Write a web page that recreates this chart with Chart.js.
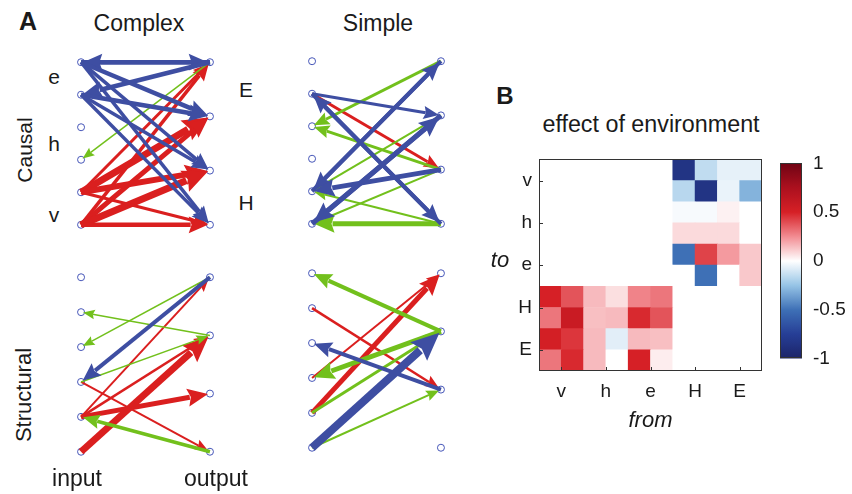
<!DOCTYPE html>
<html>
<head>
<meta charset="utf-8">
<script src="https://cdn.jsdelivr.net/npm/chart.js@4.4.1/dist/chart.umd.min.js"></script>
<style>
html, body { margin: 0; padding: 0; background: #fff; }
#fig { position: relative; width: 852px; height: 494px; overflow: hidden; font-family: "Liberation Sans", Arial, sans-serif; color: #1a1a1a; }
#fig canvas { position: absolute; }
.t { position: absolute; transform: translate(-50%, -50%); white-space: nowrap; line-height: 1; font-size: 21px; }
.rot { transform: translate(-50%, -50%) rotate(-90deg); }
</style>
</head>
<body>
<div id="fig">
  <canvas id="complexCausal"></canvas>
  <canvas id="complexStructural"></canvas>
  <canvas id="simpleCausal"></canvas>
  <canvas id="simpleStructural"></canvas>
  <canvas id="heatmap"></canvas>
  <canvas id="colorbar"></canvas>

  <div class="t" style="left:28px;top:21px;font-size:25px;font-weight:bold">A</div>
  <div class="t" style="left:139px;top:23px;font-size:23px">Complex</div>
  <div class="t" style="left:378px;top:23px;font-size:23px">Simple</div>
  <div class="t rot" style="left:24px;top:150px;font-size:21px">Causal</div>
  <div class="t rot" style="left:24px;top:395px;font-size:22px">Structural</div>
  <div class="t" style="left:54px;top:76px">e</div>
  <div class="t" style="left:54px;top:143px">h</div>
  <div class="t" style="left:54px;top:214px">v</div>
  <div class="t" style="left:246px;top:89px">E</div>
  <div class="t" style="left:246px;top:202px">H</div>
  <div class="t" style="left:77px;top:478px;font-size:23px">input</div>
  <div class="t" style="left:216px;top:478px;font-size:23px">output</div>

  <div class="t" style="left:505px;top:96px;font-size:24px;font-weight:bold">B</div>
  <div class="t" style="left:651px;top:125px;font-size:23.3px">effect of environment</div>
  <div class="t" style="left:500px;top:260px;font-size:22px;font-style:italic">to</div>
</div>

<script>
// network layout: 6 input nodes (left), 4 output nodes (right)
const leftNodes = 6;
const rightNodes = 4;

// edges: [from side, from index, to side, to index, weight, colour]
const complexCausalEdges = [
  ['L', 4, 'R', 0, 3, 'red'],
  ['L', 5, 'R', 0, 3.5, 'red'],
  ['L', 4, 'R', 1, 7, 'red'],
  ['L', 5, 'R', 1, 5, 'red'],
  ['L', 4, 'R', 2, 6, 'red'],
  ['L', 5, 'R', 2, 7, 'red'],
  ['L', 4, 'R', 3, 3, 'red'],
  ['L', 5, 'R', 3, 4.5, 'red'],
  ['R', 0, 'L', 3, 1.5, 'green'],
  ['L', 0, 'R', 0, 4.5, 'blue'],
  ['R', 0, 'L', 0, 4.5, 'blue'],
  ['R', 0, 'L', 1, 4.5, 'blue'],
  ['L', 0, 'R', 1, 4.5, 'blue'],
  ['L', 1, 'R', 1, 4.5, 'blue'],
  ['L', 0, 'R', 2, 3.5, 'blue'],
  ['L', 1, 'R', 2, 3.5, 'blue'],
  ['L', 0, 'R', 3, 3.5, 'blue'],
  ['L', 1, 'R', 3, 3.5, 'blue']
];

const complexStructuralEdges = [
  ['L', 4, 'R', 0, 2, 'red'],
  ['L', 4, 'R', 1, 2.5, 'red'],
  ['L', 4, 'R', 2, 5, 'red'],
  ['L', 5, 'R', 1, 7, 'red'],
  ['L', 3, 'R', 3, 2, 'red'],
  ['R', 0, 'L', 2, 1.5, 'green'],
  ['R', 1, 'L', 1, 1.5, 'green'],
  ['L', 3, 'R', 1, 1.5, 'green'],
  ['R', 3, 'L', 4, 3.5, 'green'],
  ['R', 0, 'L', 3, 4, 'blue']
];

const simpleCausalEdges = [
  ['L', 1, 'R', 2, 3, 'red'],
  ['R', 0, 'L', 2, 3, 'green'],
  ['R', 2, 'L', 2, 3, 'green'],
  ['R', 1, 'L', 4, 2, 'green'],
  ['R', 2, 'L', 5, 2, 'green'],
  ['R', 3, 'L', 4, 2, 'green'],
  ['R', 3, 'L', 5, 5, 'green'],
  ['L', 1, 'R', 1, 3, 'blue'],
  ['L', 1, 'R', 3, 4, 'blue'],
  ['R', 3, 'L', 1, 4, 'blue'],
  ['L', 4, 'R', 0, 4, 'blue'],
  ['R', 0, 'L', 4, 4, 'blue'],
  ['R', 2, 'L', 4, 5, 'blue'],
  ['L', 5, 'R', 1, 5, 'blue'],
  ['R', 1, 'L', 5, 5, 'blue']
];

const simpleStructuralEdges = [
  ['L', 1, 'R', 2, 2.5, 'red'],
  ['L', 3, 'R', 0, 2, 'red'],
  ['L', 4, 'R', 0, 5, 'red'],
  ['R', 1, 'L', 0, 4, 'green'],
  ['R', 1, 'L', 3, 5, 'green'],
  ['L', 4, 'R', 1, 3, 'green'],
  ['L', 5, 'R', 2, 2, 'green'],
  ['R', 2, 'L', 2, 4, 'blue'],
  ['L', 5, 'R', 1, 8, 'blue']
];

// heatmap: effect of environment, rows top to bottom, columns left to right
const heatLabels = ['v', 'h', 'e', 'H', 'E'];
const heatRows = [
  [0, 0, 0, 0, 0, 0, -0.85, -0.15, -0.06, -0.06],
  [0, 0, 0, 0, 0, 0, -0.17, -0.85, -0.05, -0.3],
  [0, 0, 0, 0, 0, 0, -0.02, -0.02, 0.03, 0],
  [0, 0, 0, 0, 0, 0, 0.08, 0.08, 0.08, 0],
  [0, 0, 0, 0, 0, 0, -0.5, 0.42, 0.22, 0.12],
  [0, 0, 0, 0, 0, 0, 0, -0.5, 0, 0.12],
  [0.5, 0.38, 0.15, 0.07, 0.27, 0.3, 0, 0, 0, 0],
  [0.3, 0.58, 0.14, 0.15, 0.48, 0.38, 0, 0, 0, 0],
  [0.52, 0.45, 0.15, -0.07, 0.15, 0.14, 0, 0, 0, 0],
  [0.3, 0.48, 0.15, 0, 0.5, 0.04, 0, 0, 0, 0]
];
const colorbarTicks = [-1, -0.5, 0, 0.5, 1];

const edgeColors = { red: '#da1f1f', green: '#72c01c', blue: '#3e4ea2' };
const nodeColor = '#4656b8';
const textColor = '#1a1a1a';
const font = '"Liberation Sans", Arial, sans-serif';

// colormap stops (blue - white - red)
const cmap = [
  [-1, [28, 36, 104]], [-0.75, [38, 62, 150]], [-0.5, [62, 112, 182]],
  [-0.25, [150, 196, 230]], [0, [255, 255, 255]], [0.25, [242, 140, 146]],
  [0.5, [214, 32, 38]], [0.75, [172, 16, 30]], [1, [112, 4, 20]]
];

function colorFor(v) {
  v = Math.max(-1, Math.min(1, v));
  for (let i = 1; i < cmap.length; i++) {
    if (v <= cmap[i][0]) {
      const [a, ca] = cmap[i - 1];
      const [b, cb] = cmap[i];
      const t = (v - a) / (b - a);
      const c = ca.map((x, k) => Math.round(x + (cb[k] - x) * t));
      return `rgb(${c[0]},${c[1]},${c[2]})`;
    }
  }
  return 'rgb(112,4,20)';
}

function nodePos(side, i) {
  if (side === 'L') return { x: 0, y: i };
  return { x: 1, y: i * (leftNodes - 1) / (rightNodes - 1) };
}

function drawArrow(ctx, x1, y1, x2, y2, w, color) {
  const dx = x2 - x1, dy = y2 - y1;
  const len = Math.hypot(dx, dy);
  const ux = dx / len, uy = dy / len;
  const px = -uy, py = ux;
  const tipX = x2 - ux * 2, tipY = y2 - uy * 2;
  const headLen = 8 + w * 2.5;
  const headHalf = 3 + w * 1.2;
  const baseX = tipX - ux * headLen, baseY = tipY - uy * headLen;
  ctx.save();
  ctx.strokeStyle = color;
  ctx.fillStyle = color;
  ctx.lineWidth = w;
  ctx.lineCap = 'butt';
  ctx.beginPath();
  ctx.moveTo(x1, y1);
  ctx.lineTo(baseX + ux * 2, baseY + uy * 2);
  ctx.stroke();
  ctx.beginPath();
  ctx.moveTo(tipX, tipY);
  ctx.lineTo(baseX + px * headHalf, baseY + py * headHalf);
  ctx.lineTo(baseX + ux * headLen * 0.15, baseY + uy * headLen * 0.15);
  ctx.lineTo(baseX - px * headHalf, baseY - py * headHalf);
  ctx.closePath();
  ctx.fill();
  ctx.restore();
}

const arrowPlugin = {
  id: 'arrows',
  afterDatasetsDraw(chart, args, opts) {
    const { ctx, scales: { x, y } } = chart;
    for (const [fs, fi, ts, ti, w, col] of opts.edges) {
      const a = nodePos(fs, fi), b = nodePos(ts, ti);
      drawArrow(ctx, x.getPixelForValue(a.x), y.getPixelForValue(a.y),
        x.getPixelForValue(b.x), y.getPixelForValue(b.y), w, edgeColors[col]);
    }
  }
};

// box = pixel position of the left/right node columns and top/bottom node rows
function createNetwork(id, box, edges) {
  const canvas = document.getElementById(id);
  const m = 16;
  const W = box.r - box.l, H = box.b - box.t;
  canvas.width = W + 2 * m;
  canvas.height = H + 2 * m;
  canvas.style.left = (box.l - m) + 'px';
  canvas.style.top = (box.t - m) + 'px';
  const step = H / (leftNodes - 1);

  const nodes = [];
  for (let i = 0; i < leftNodes; i++) nodes.push(nodePos('L', i));
  for (let j = 0; j < rightNodes; j++) nodes.push(nodePos('R', j));

  return new Chart(canvas, {
    type: 'scatter',
    data: {
      datasets: [{
        data: nodes,
        pointRadius: 3.5,
        pointBorderWidth: 1,
        pointBorderColor: nodeColor,
        pointBackgroundColor: 'rgba(255,255,255,0)'
      }]
    },
    options: {
      responsive: false,
      animation: false,
      devicePixelRatio: 1,
      layout: { padding: 0 },
      plugins: { legend: { display: false }, tooltip: { enabled: false }, arrows: { edges } },
      scales: {
        x: { display: false, min: -m / W, max: 1 + m / W },
        y: { display: false, reverse: true, min: -m / step, max: (leftNodes - 1) + m / step }
      }
    },
    plugins: [arrowPlugin]
  });
}

createNetwork('complexCausal', { l: 77, r: 214, t: 58, b: 229 }, complexCausalEdges);
createNetwork('complexStructural', { l: 77, r: 214, t: 273, b: 456 }, complexStructuralEdges);
createNetwork('simpleCausal', { l: 308, r: 445, t: 57, b: 228 }, simpleCausalEdges);
createNetwork('simpleStructural', { l: 308, r: 445, t: 269, b: 452 }, simpleStructuralEdges);

// heatmap as stacked bars, one dataset per row (bottom row first)
const nRows = heatRows.length, nCols = heatRows[0].length;
const tickVals = heatLabels.map((_, i) => 2 * i + 1);

const boxPlugin = {
  id: 'box',
  afterDraw(chart, args, opts) {
    const { ctx, chartArea: a, scales } = chart;
    ctx.save();
    ctx.strokeStyle = '#333';
    ctx.lineWidth = 1;
    ctx.strokeRect(Math.round(a.left) + 0.5, Math.round(a.top) + 0.5,
      Math.round(a.right - a.left) - 1, Math.round(a.bottom - a.top) - 1);
    if (opts.ticks) {
      ctx.beginPath();
      for (const v of tickVals) {
        const px = Math.round(scales.x.getPixelForValue(v)) + 0.5;
        ctx.moveTo(px, a.bottom);
        ctx.lineTo(px, a.bottom - 4);
        const py = Math.round(scales.y.getPixelForValue(v)) + 0.5;
        ctx.moveTo(a.left, py);
        ctx.lineTo(a.left + 4, py);
      }
      ctx.stroke();
    }
    ctx.restore();
  }
};

const heatCanvas = document.getElementById('heatmap');
heatCanvas.width = 290; heatCanvas.height = 300;
heatCanvas.style.left = '480px'; heatCanvas.style.top = '141px';

const heatDatasets = [];
for (let k = 0; k < nRows; k++) {
  const row = heatRows[nRows - 1 - k];
  heatDatasets.push({
    data: row.map((v, c) => ({ x: c + 0.5, y: 1 })),
    backgroundColor: row.map(colorFor),
    borderWidth: 0,
    barPercentage: 1,
    categoryPercentage: 1
  });
}

new Chart(heatCanvas, {
  type: 'bar',
  data: { datasets: heatDatasets },
  options: {
    responsive: false,
    animation: false,
    devicePixelRatio: 1,
    layout: { padding: { top: 10, right: 8, left: 0, bottom: 0 } },
    plugins: { legend: { display: false }, tooltip: { enabled: false }, box: { ticks: true } },
    scales: {
      x: {
        type: 'linear', min: 0, max: nCols, stacked: true, offset: false,
        grid: { display: false, offset: false, drawTicks: false },
        border: { display: false },
        afterBuildTicks: s => { s.ticks = tickVals.map(v => ({ value: v })); },
        afterFit: s => { s.height = 70; },
        ticks: {
          padding: 9, color: textColor, font: { family: font, size: 19 },
          callback: v => heatLabels[(v - 1) / 2]
        },
        title: {
          display: true, text: 'from', color: textColor,
          font: { family: font, size: 22, style: 'italic' }, padding: { top: 0, bottom: 7 }
        }
      },
      y: {
        type: 'linear', min: 0, max: nRows, stacked: true,
        grid: { display: false, drawTicks: false },
        border: { display: false },
        afterBuildTicks: s => { s.ticks = tickVals.map(v => ({ value: v })); },
        afterFit: s => { s.width = 59; },
        ticks: {
          padding: 7, color: textColor, font: { family: font, size: 19 },
          callback: v => heatLabels[heatLabels.length - 1 - (v - 1) / 2]
        }
      }
    }
  },
  plugins: [boxPlugin]
});

// colorbar
const cbCanvas = document.getElementById('colorbar');
cbCanvas.width = 82; cbCanvas.height = 240;
cbCanvas.style.left = '770px'; cbCanvas.style.top = '141px';

new Chart(cbCanvas, {
  type: 'bar',
  data: {
    labels: [''],
    datasets: [{
      data: [[colorbarTicks[0], colorbarTicks[colorbarTicks.length - 1]]],
      barPercentage: 1,
      categoryPercentage: 1,
      borderWidth: 0,
      backgroundColor: ctx => {
        const chart = ctx.chart;
        if (!chart.chartArea) return null;
        const ys = chart.scales.y;
        const g = chart.ctx.createLinearGradient(0, ys.getPixelForValue(-1), 0, ys.getPixelForValue(1));
        for (let i = 0; i <= 40; i++) {
          const v = -1 + i / 20;
          g.addColorStop(i / 40, colorFor(v));
        }
        return g;
      }
    }]
  },
  options: {
    responsive: false,
    animation: false,
    devicePixelRatio: 1,
    layout: { padding: { top: 10, right: 0, left: 10, bottom: 10 } },
    plugins: { legend: { display: false }, tooltip: { enabled: false }, box: { ticks: false } },
    scales: {
      x: { display: false },
      y: {
        position: 'right', min: -1, max: 1,
        grid: { display: false, drawTicks: false },
        border: { display: false },
        afterBuildTicks: s => { s.ticks = colorbarTicks.map(v => ({ value: v })); },
        afterFit: s => { s.width = 50; },
        ticks: {
          padding: 11, color: textColor, font: { family: font, size: 19 },
          callback: v => String(v)
        }
      }
    }
  },
  plugins: [boxPlugin]
});
</script>
</body>
</html>
